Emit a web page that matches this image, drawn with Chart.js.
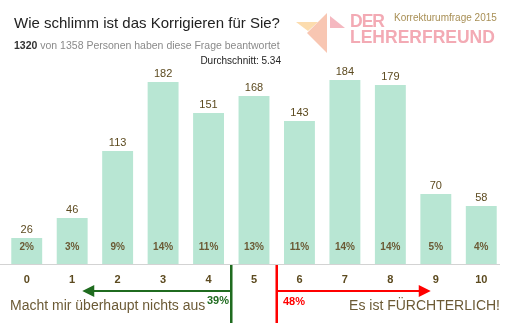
<!DOCTYPE html>
<html>
<head>
<meta charset="utf-8">
<script src="https://cdn.jsdelivr.net/npm/chart.js@4/dist/chart.umd.min.js"></script>
<style>
  body { margin: 0; background: #fff; font-family: "Liberation Sans", Arial, sans-serif; }
  #wrap { position: relative; width: 510px; height: 323px; overflow: hidden; }
  #chart { position: absolute; left: 0; top: 0; }
  .t { position: absolute; white-space: nowrap; line-height: 1; }
  #logo { position: absolute; left: 0; top: 0; }
</style>
</head>
<body>
<div id="wrap">
  <canvas id="chart" width="510" height="323"></canvas>
  <svg id="logo" width="510" height="60">
    <polygon points="296,22 318,22 308,31" fill="#fcdcae"/>
    <polygon points="327,13 327,53 307,33" fill="#f8c6b2"/>
    <polygon points="330,16 330,28 345,28" fill="#f5b8c0"/>
  </svg>
  <div class="t" style="left:14px;top:15px;font-size:15px;color:#222">Wie schlimm ist das Korrigieren für Sie?</div>
  <div class="t" style="left:14px;top:40px;font-size:10.5px;color:#8a8a8a"><b style="color:#333">1320</b> von 1358 Personen haben diese Frage beantwortet</div>
  <div class="t" style="right:229px;top:56px;font-size:10px;color:#222">Durchschnitt: 5.34</div>
  <div class="t" style="left:394px;top:13px;font-size:10px;color:#a88f55">Korrekturumfrage 2015</div>
  <div class="t" style="left:350px;top:13px;font-size:17.5px;font-weight:bold;color:#f3aab4;letter-spacing:-1px">DER</div>
  <div class="t" style="left:350px;top:29px;font-size:17.5px;font-weight:bold;color:#f3aab4">LEHRERFREUND</div>
  <div class="t" style="left:10px;top:298px;font-size:14px;color:#6b5a35">Macht mir überhaupt nichts aus</div>
  <div class="t" style="left:207px;top:295px;font-size:11px;font-weight:bold;color:#1f6b1f">39%</div>
  <div class="t" style="left:283px;top:296px;font-size:11px;font-weight:bold;color:#f00">48%</div>
  <div class="t" style="right:10px;top:298px;font-size:14px;color:#6b5a35">Es ist FÜRCHTERLICH!</div>
</div>
<script>
const categories = ["0", "1", "2", "3", "4", "5", "6", "7", "8", "9", "10"];
const counts = [26, 46, 113, 182, 151, 168, 143, 184, 179, 70, 58];
const percents = [2, 3, 9, 14, 11, 13, 11, 14, 14, 5, 4];

const FONT = '"Liberation Sans", Arial, sans-serif';

/* labels on the bars, baseline and the two arrows */
const extras = {
  id: "extras",
  afterDatasetsDraw(chart) {
    const ctx = chart.ctx;
    const area = chart.chartArea;
    const meta = chart.getDatasetMeta(0);
    ctx.save();
    ctx.textAlign = "center";
    ctx.textBaseline = "middle";
    meta.data.forEach((bar, i) => {
      ctx.fillStyle = "#5c4a1f";
      ctx.font = "11px " + FONT;
      ctx.fillText(counts[i], bar.x, bar.y - 8);
      ctx.fillStyle = "#6b5a35";
      ctx.font = "bold 10px " + FONT;
      ctx.fillText(percents[i] + "%", bar.x, area.bottom - 17);
    });

    ctx.strokeStyle = "#d3d3d3";
    ctx.lineWidth = 1;
    ctx.beginPath();
    ctx.moveTo(0, area.bottom + 0.5);
    ctx.lineTo(500, area.bottom + 0.5);
    ctx.stroke();

    const x = chart.scales.x;
    const gx = (x.getPixelForValue(4) + x.getPixelForValue(5)) / 2;
    const rx = (x.getPixelForValue(5) + x.getPixelForValue(6)) / 2;
    const ay = 291;
    drawArrow(ctx, gx, area.bottom + 1, chart.height, gx - 149, ay, "#1f6b1f");
    drawArrow(ctx, rx, area.bottom + 1, chart.height, rx + 154, ay, "#ff0000");
    ctx.restore();
  }
};

function drawArrow(ctx, x0, top, bottom, tipX, y, color) {
  const dir = tipX < x0 ? -1 : 1;
  ctx.strokeStyle = color;
  ctx.fillStyle = color;
  ctx.lineWidth = 2.5;
  ctx.beginPath();
  ctx.moveTo(x0, top);
  ctx.lineTo(x0, bottom);
  ctx.stroke();
  ctx.lineWidth = 2;
  ctx.beginPath();
  ctx.moveTo(x0, y);
  ctx.lineTo(tipX - dir * 10, y);
  ctx.stroke();
  ctx.beginPath();
  ctx.moveTo(tipX, y);
  ctx.lineTo(tipX - dir * 12, y - 6);
  ctx.lineTo(tipX - dir * 12, y + 6);
  ctx.closePath();
  ctx.fill();
}

new Chart(document.getElementById("chart"), {
  type: "bar",
  data: {
    labels: categories,
    datasets: [{
      data: counts,
      backgroundColor: "#b8e6d3",
      borderWidth: 0,
      barPercentage: 0.68,
      categoryPercentage: 1
    }]
  },
  options: {
    responsive: false,
    animation: false,
    layout: { padding: { left: 4, right: 6, top: 64, bottom: 39 } },
    plugins: { legend: { display: false }, tooltip: { enabled: false } },
    scales: {
      x: {
        grid: { display: false, drawTicks: false },
        border: { display: false },
        ticks: { color: "#5c4a1f", font: { family: FONT, size: 11, weight: "bold" }, padding: 9 },
        afterFit(scale) { scale.height = 20; }
      },
      y: { display: false, min: 0, max: 200 }
    }
  },
  plugins: [extras]
});
</script>
</body>
</html>
